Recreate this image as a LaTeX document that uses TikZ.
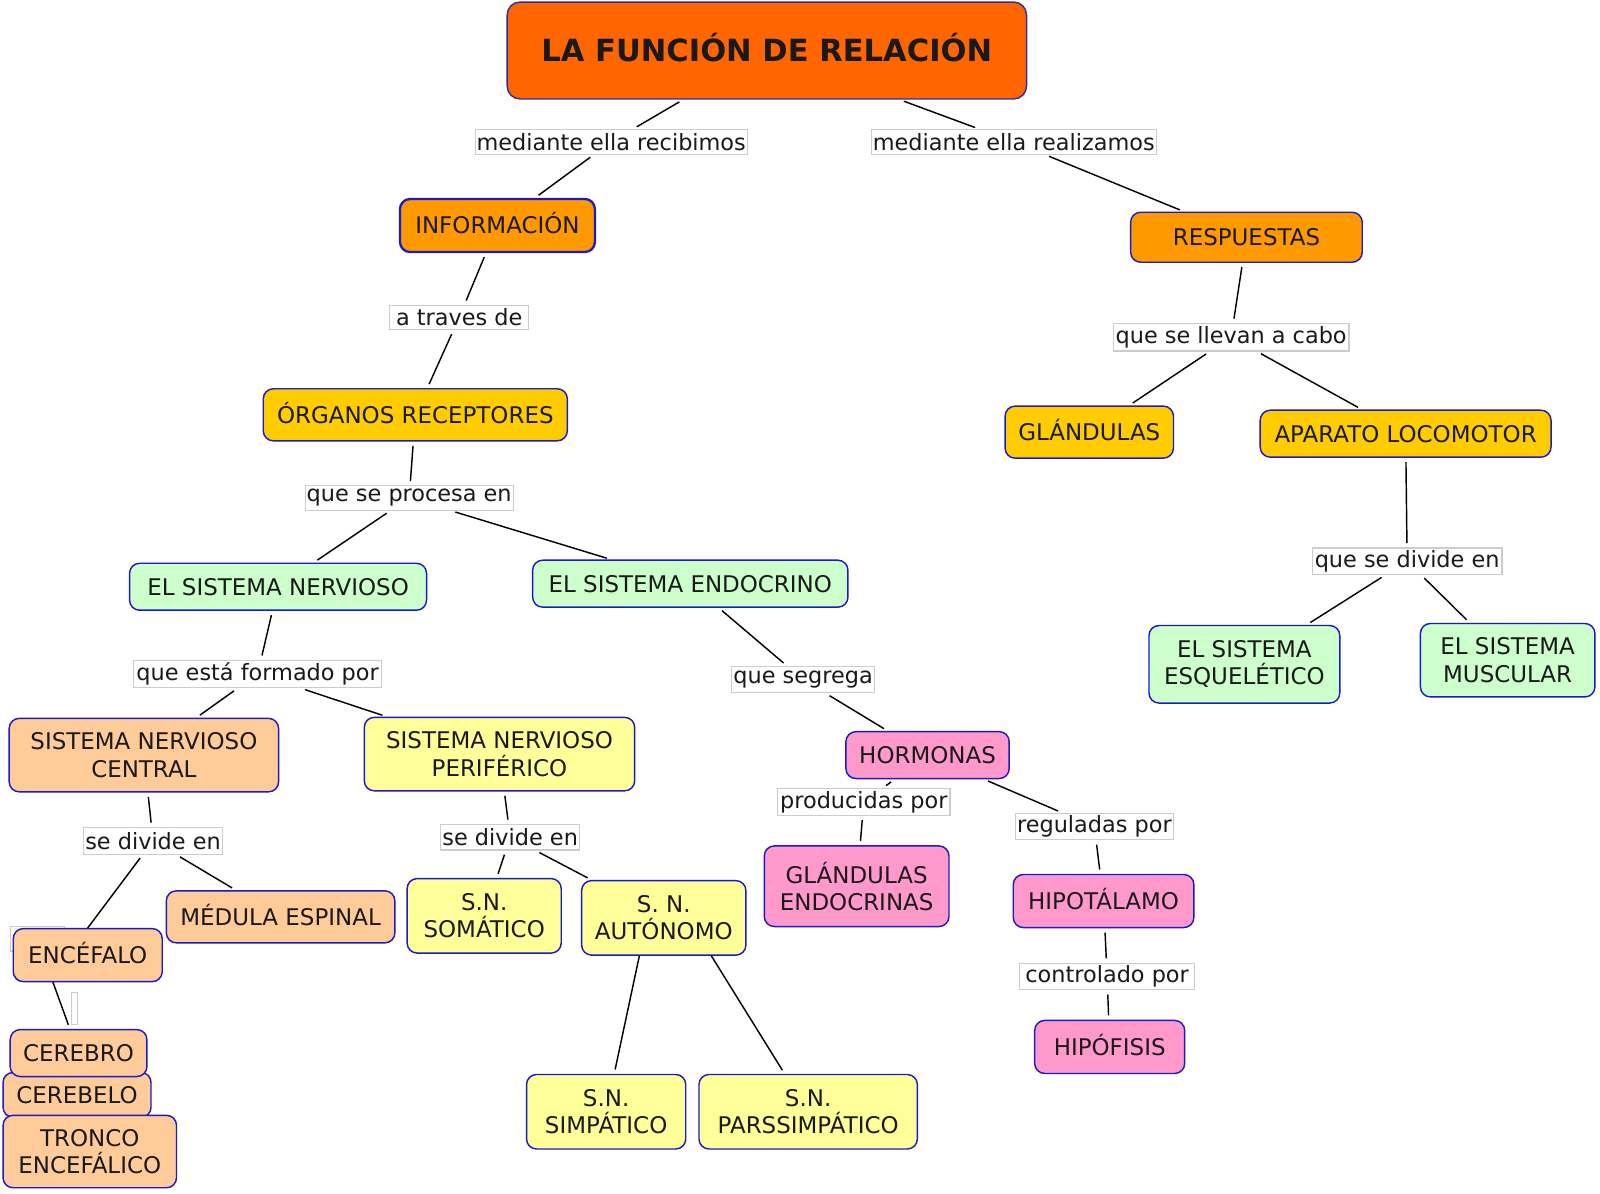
\documentclass[tikz,border=0pt]{standalone}
\usepackage{fontspec}
\setmainfont{DejaVu Sans}
\usetikzlibrary{backgrounds}
\definecolor{cborde}{RGB}{25,25,205}
\definecolor{cbordeT}{RGB}{45,45,165}
\definecolor{naranjaT}{HTML}{FF6600}
\definecolor{naranja}{HTML}{FF9900}
\definecolor{ambar}{HTML}{FFCC00}
\definecolor{verde}{HTML}{CCFFCC}
\definecolor{melocoton}{HTML}{FFCC99}
\definecolor{amarillo}{HTML}{FFFF99}
\definecolor{rosa}{HTML}{FF99CC}
\tikzset{
  concept/.style={draw=cborde, line width=1pt, rounded corners=7pt, align=center, inner sep=2pt, text=black!90, font=\fontsize{16}{19}\selectfont},
  simple/.style={text height=11.7pt, text depth=0pt},
  enlace/.style={draw=gray!40, fill=white, line width=0.8pt, inner sep=1pt, text=black!90, font=\fontsize{15.6}{18}\selectfont},
  sz/.style 2 args={minimum width=#1*0.025cm, minimum height=#2*0.025cm},
  linea/.style={line width=1pt, shorten >=3pt, shorten <=3pt}
}
\begin{document}
\begin{tikzpicture}[x=0.025cm, y=-0.025cm]
                \useasboundingbox (0,0) rectangle (1568,1170);
                % cabecera
                \node[concept, simple, text height=15.5pt, fill=naranjaT, draw=cbordeT, rounded corners=9pt, sz={509}{95}, font=\fontsize{21.3}{25}\selectfont\bfseries] (titulo) at (751.5,49.5) {LA FUNCIÓN DE RELACIÓN};
                \node[concept, simple, fill=naranja, line width=1.6pt, sz={191}{52}] (info) at (487.5,221) {INFORMACIÓN};
                \node[concept, simple, fill=naranja, sz={227}{49}] (resp) at (1221.5,232.5) {RESPUESTAS};
                \node[concept, simple, fill=ambar, sz={298}{51}] (organos) at (407,406.5) {ÓRGANOS RECEPTORES};
                \node[concept, simple, fill=ambar, sz={165}{51}] (glandulas) at (1067.5,423.5) {GLÁNDULAS};
                \node[concept, simple, fill=ambar, sz={285}{46}] (aparato) at (1377.5,425) {APARATO LOCOMOTOR};
                % sistemas
                \node[concept, simple, fill=verde, sz={291}{46}] (nervioso) at (272.5,575) {EL SISTEMA NERVIOSO};
                \node[concept, simple, fill=verde, sz={309}{46}] (endocrino) at (676.5,572) {EL SISTEMA ENDOCRINO};
                \node[concept, fill=verde, sz={187}{76}] (esqueletico) at (1219.5,651) {EL SISTEMA\\ESQUELÉTICO};
                \node[concept, fill=verde, sz={171}{72}] (muscular) at (1477.5,647) {EL SISTEMA\\MUSCULAR};
                \node[concept, fill=melocoton, sz={264}{72}] (snc) at (141,740) {SISTEMA NERVIOSO\\CENTRAL};
                \node[concept, fill=amarillo, sz={265}{72}] (snp) at (489.5,739) {SISTEMA NERVIOSO\\PERIFÉRICO};
                \node[concept, simple, fill=rosa, sz={160}{46}] (hormonas) at (909,740) {HORMONAS};
                \node[concept, fill=rosa, sz={181}{79}] (glendo) at (839.5,868.5) {GLÁNDULAS\\ENDOCRINAS};
                \node[concept, simple, fill=rosa, sz={177}{52}] (hipotalamo) at (1081.5,883) {HIPOTÁLAMO};
                \node[concept, simple, fill=rosa, sz={147}{52}] (hipofisis) at (1087.5,1026) {HIPÓFISIS};
                \node[concept, simple, fill=melocoton, sz={224}{51}] (medula) at (275,898.5) {MÉDULA ESPINAL};
                \node[enlace, sz={53}{24}] (vacioA) at (36.5,920) {};
                \node[concept, simple, fill=melocoton, sz={146}{52}] (encefalo) at (86,936) {ENCÉFALO};
                \node[concept, fill=amarillo, sz={151}{73}] (somatico) at (474.5,897.5) {S.N.\\SOMÁTICO};
                \node[concept, fill=amarillo, sz={161}{73}] (autonomo) at (650.5,899.5) {S. N.\\AUTÓNOMO};
                \node[enlace, inner sep=0pt, sz={5.5}{31}] (vacioB) at (73,988.5) {};
                \node[concept, simple, fill=melocoton, sz={145}{44}] (cerebelo) at (75.5,1073) {CEREBELO};
                \node[concept, simple, fill=melocoton, sz={134}{46}] (cerebro) at (77,1032) {CEREBRO};
                \node[concept, fill=melocoton, sz={170}{71}] (tronco) at (88,1128.5) {TRONCO\\ENCEFÁLICO};
                \node[concept, fill=amarillo, sz={156}{73}] (simpatico) at (594,1089.5) {S.N.\\SIMPÁTICO};
                \node[concept, fill=amarillo, sz={214}{73}] (parasimp) at (792,1089.5) {S.N.\\PARSSIMPÁTICO};
                % palabras de enlace
                \node[enlace, sz={266}{24}] (l1) at (599,139) {mediante ella recibimos};
                \node[enlace, sz={279}{24}] (l2) at (993.5,139) {mediante ella realizamos};
                \node[enlace, sz={136}{24}] (l3) at (450,311) {a traves de\ };
                \node[enlace, sz={231}{27}] (l4) at (1206.5,330.5) {que se llevan a cabo};
                \node[enlace, sz={204}{24}] (l5) at (401,488) {que se procesa en};
                \node[enlace, sz={186}{26}] (l6) at (1379,550) {que se divide en};
                \node[enlace, sz={243}{27}] (l7) at (252.5,660.5) {que está formado por};
                \node[enlace, sz={140}{26}] (l8) at (787,666) {que segrega};
                \node[enlace, sz={169}{26}] (l9) at (846.5,786) {producidas por};
                \node[enlace, sz={155}{26}] (l10) at (1072.5,810) {reguladas por};
                \node[enlace, sz={136}{26}] (l11) at (150,824) {se divide en};
                \node[enlace, sz={136}{25}] (l12) at (500,820.5) {se divide en};
                \node[enlace, sz={172}{26}] (l13) at (1085,957) {controlado por\ };
                % puntos de salida ocultos
                \coordinate (encA) at (66,936);
                \coordinate (autA) at (634.5,899.5);
                \coordinate (autB) at (674,899.5);
                % conectores
                \begin{scope}[on background layer]
                \foreach \a/\b in {titulo/l1, l1/info, titulo/l2, l2/resp, info/l3, l3/organos,
                    organos/l5, l5/nervioso, l5/endocrino, resp/l4, l4/glandulas, l4/aparato,
                    aparato/l6, l6/esqueletico, l6/muscular, nervioso/l7, l7/snc, l7/snp,
                    endocrino/l8, l8/hormonas, hormonas/l9, l9/glendo, hormonas/l10, l10/hipotalamo,
                    hipotalamo/l13, l13/hipofisis, snc/l11, l11/medula, l11/encA, vacioA/cerebro,
                    snp/l12, l12/somatico, l12/autonomo, autA/simpatico, autB/parasimp}
                    \draw[linea] (\a) -- (\b);
                \end{scope}
            \end{tikzpicture}
\end{document}
